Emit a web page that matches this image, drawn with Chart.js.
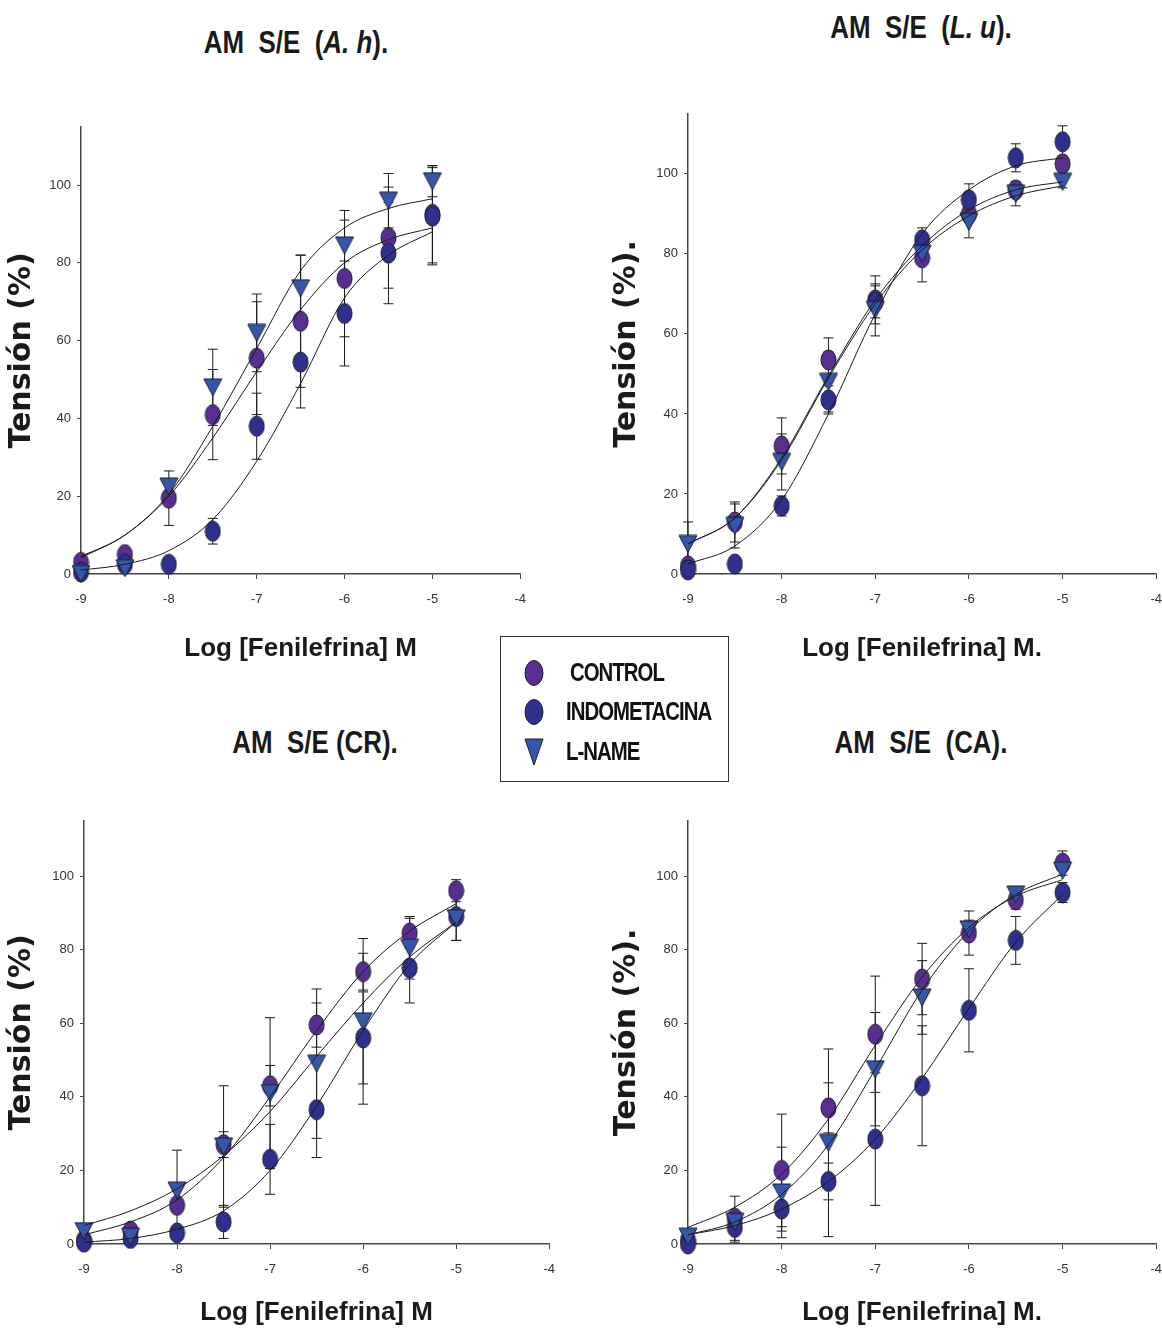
<!DOCTYPE html>
<html lang="es">
<head>
<meta charset="utf-8">
<title>AM S/E - Log [Fenilefrina]</title>
<script src="https://cdn.jsdelivr.net/npm/chart.js@4.4.1/dist/chart.umd.min.js"></script>
<style>
    html, body { margin: 0; padding: 0; background: #fff; overflow: hidden; }
    #page { position: relative; width: 1162px; height: 1331px; overflow: hidden; }
    canvas { position: absolute; }
    .panel-title {
        position: absolute;
        transform: translate(-50%, -50%) scaleX(0.81);
        font-family: "Liberation Sans", Arial, sans-serif;
        font-weight: bold;
        font-size: 32px;
        color: #1a1a1a;
        white-space: pre;
        line-height: 1;
    }
    #legend {
        position: absolute;
        left: 500px; top: 636px;
        width: 227px; height: 144px;
        border: 1.5px solid #333;
    }
    .legend-item { position: absolute; left: 0; width: 227px; height: 34px; }
    .legend-item svg { position: absolute; left: 20px; top: 3px; }
    .legend-item span {
        position: absolute; top: 3px;
        transform: scaleX(0.815);
        transform-origin: left center;
        font-family: "Liberation Sans", Arial, sans-serif;
        font-weight: bold; font-size: 25px; letter-spacing: -1.2px; color: #111;
        white-space: nowrap;
    }
</style>
</head>
<body>
<div id="page">
    <canvas id="chart-ah"></canvas>
    <canvas id="chart-lu"></canvas>
    <canvas id="chart-cr"></canvas>
    <canvas id="chart-ca"></canvas>

    <div class="panel-title" style="left:296px; top:42px;">AM  S/E  (<i>A. h</i>).</div>
    <div class="panel-title" style="left:921px; top:27px;">AM  S/E  (<i>L. u</i>).</div>
    <div class="panel-title" style="left:315px; top:742px;">AM  S/E (CR).</div>
    <div class="panel-title" style="left:921px; top:742px;">AM  S/E  (CA).</div>

    <div id="legend">
        <div class="legend-item" style="top:18px;">
            <svg width="26" height="30"><ellipse cx="13" cy="15" rx="9" ry="12.5" fill="#5a2e90" stroke="#1c1c2c" stroke-width="1"/></svg>
            <span style="left:69px;">CONTROL</span>
        </div>
        <div class="legend-item" style="top:57px;">
            <svg width="26" height="30"><ellipse cx="13" cy="15" rx="9" ry="12.5" fill="#2f2f8e" stroke="#1c1c2c" stroke-width="1"/></svg>
            <span style="left:65px;">INDOMETACINA</span>
        </div>
        <div class="legend-item" style="top:97px;">
            <svg width="26" height="30"><polygon points="4,2 22,2 13,28" fill="#3457ab" stroke="#1c1c2c" stroke-width="1"/></svg>
            <span style="left:65px;">L-NAME</span>
        </div>
    </div>
</div>

<script>
// log [fenilefrina] M
const doses = [-9, -8.5, -8, -7.5, -7, -6.5, -6, -5.5, -5];
const xTicks = [-9, -8, -7, -6, -5, -4];
const yTicks = [0, 20, 40, 60, 80, 100];

// AM S/E (A. h)
const ahControl    = [3, 5, 19.5, 41, 55.5, 65, 76, 86.5, 92.5];
const ahControlSem = [0, 0, 7, 11.6, 14.5, 17, 15, 13, 12.5];
const ahIndo       = [0.5, 2.5, 2.5, 11, 38, 54.5, 67, 82.5, 92];
const ahIndoSem    = [0, 0, 0, 3.3, 8.5, 11.8, 13.5, 13, 12.5];
const ahLname      = [0, 1.5, 22.5, 48, 62, 73.5, 84.5, 96, 101];
const ahLnameSem   = [0, 0, 2, 9.8, 10, 8.5, 9, 7, 4];
const ahControlFit = [4.2, 10, 20, 35, 52, 68, 80, 86, 89];
const ahIndoFit    = [1, 2.5, 6, 14, 29, 49, 71, 82, 88];
const ahLnameFit   = [4.5, 10, 20.5, 38, 58, 78, 89, 94, 96.5];

// AM S/E (L. u)
const luControl    = [2, 13, 32, 53.5, 68.5, 79, 90, 96, 102.5];
const luControlSem = [0, 5, 7, 5.5, 6, 6, 2, 1.5, 2];
const luIndo       = [1, 2.5, 17, 43.5, 68, 83.5, 93.5, 104, 108];
const luIndoSem    = [0, 0, 2.5, 3.5, 4, 3, 4, 3.5, 4];
const luLname      = [7.5, 12, 28, 48, 66, 80, 88, 95, 98];
const luLnameSem   = [5.5, 5.5, 7, 7.5, 6.5, 2, 4, 3, 1.5];
const luControlFit = [7.5, 14, 29, 49.5, 68.5, 82, 91, 96, 98];
const luIndoFit    = [2.5, 7, 18.5, 40, 65, 85, 96, 102, 104];
const luLnameFit   = [7.5, 14, 28.5, 49, 67.5, 81, 89.5, 94.5, 97];

// AM S/E (CR)
const crControl    = [1, 3.5, 10.5, 27, 43, 59.5, 74, 84.5, 96];
const crControlSem = [0, 0, 0, 3.5, 5.5, 6, 5, 4, 3];
const crIndo       = [0.5, 1.5, 3, 6, 23, 36.5, 56, 75, 89];
const crIndoSem    = [0, 0, 0, 4.5, 9.5, 13, 12.5, 9.5, 6.5];
const crLname      = [3.5, 2, 14.5, 26.5, 41, 49, 60.5, 80.5, 88.5];
const crLnameSem   = [1.5, 0, 11, 16.5, 20.5, 20.3, 22.5, 8.5, 6];
const crControlFit = [2.5, 6, 12, 23.5, 40, 58, 74, 85, 92.5];
const crIndoFit    = [0.5, 1.5, 4, 9, 20, 37.5, 58, 76, 87.5];
const crLnameFit   = [5, 9, 15, 24, 36, 51, 65.5, 78, 87.5];

// AM S/E (CA)
const caControl    = [1, 7, 20, 37, 57, 72, 84.5, 93.5, 103.5];
const caControlSem = [0, 6, 15.3, 6.8, 15.8, 9.7, 6, 2.5, 3.3];
const caIndo       = [0, 4.5, 9.5, 17, 28.5, 43, 63.5, 82.5, 95.5];
const caIndoSem    = [0, 4, 6, 5, 18, 16.3, 11.3, 6.5, 2.7];
const caLname      = [2, 6, 14, 27.5, 47.5, 67, 85.5, 95, 101.5];
const caLnameSem   = [0, 0, 12.3, 25.5, 15.4, 10, 2.5, 0, 0];
const caControlFit = [4.5, 10, 19, 34, 54, 72.5, 86, 94.5, 99];
const caIndoFit    = [2.5, 5, 9.5, 17, 28.5, 45, 64, 82, 95];
const caLnameFit   = [2.5, 6, 13.5, 27, 47.5, 69, 85, 95, 100.5];

const COLORS = { control: '#5a2e90', indo: '#2f2f8e', lname: '#3457ab' };
const SANS = '"Liberation Sans", Arial, sans-serif';

function ellipseMarker(fill, w, h) {
    const c = document.createElement('canvas');
    c.width = w + 2;
    c.height = h + 2;
    const g = c.getContext('2d');
    g.beginPath();
    g.ellipse(c.width / 2, c.height / 2, w / 2, h / 2, 0, 0, Math.PI * 2);
    g.fillStyle = fill;
    g.fill();
    g.lineWidth = 1;
    g.strokeStyle = '#1c1c2c';
    g.stroke();
    return c;
}

function triangleMarker(fill, w, h) {
    const c = document.createElement('canvas');
    c.width = w + 2;
    c.height = h + 2;
    const g = c.getContext('2d');
    g.beginPath();
    g.moveTo(1, 1);
    g.lineTo(w + 1, 1);
    g.lineTo(w / 2 + 1, h + 1);
    g.closePath();
    g.fillStyle = fill;
    g.fill();
    g.lineWidth = 1;
    g.strokeStyle = '#1c1c2c';
    g.stroke();
    return c;
}

const markers = {
    control: ellipseMarker(COLORS.control, 15, 20),
    indo: ellipseMarker(COLORS.indo, 15, 20),
    lname: triangleMarker(COLORS.lname, 18, 17)
};

// vertical SEM bars with caps, drawn under the symbols
const errorBars = {
    id: 'errorBars',
    beforeDatasetsDraw(chart) {
        const { ctx, scales: { x, y } } = chart;
        ctx.save();
        ctx.strokeStyle = '#1a1a1a';
        ctx.lineWidth = 1;
        chart.data.datasets.forEach(ds => {
            if (!ds.errors) return;
            ds.data.forEach((p, i) => {
                const e = ds.errors[i];
                if (!e) return;
                const px = x.getPixelForValue(p.x);
                const top = y.getPixelForValue(p.y + e);
                const bot = y.getPixelForValue(p.y - e);
                ctx.beginPath();
                ctx.moveTo(px, top); ctx.lineTo(px, bot);
                ctx.moveTo(px - 5, top); ctx.lineTo(px + 5, top);
                ctx.moveTo(px - 5, bot); ctx.lineTo(px + 5, bot);
                ctx.stroke();
            });
        });
        ctx.restore();
    }
};

const toPoints = values => doses.map((d, i) => ({ x: d, y: values[i] }));

function fitDataset(values) {
    return {
        data: toPoints(values),
        showLine: true,
        pointRadius: 0,
        borderColor: '#1a1a1a',
        borderWidth: 1,
        cubicInterpolationMode: 'monotone',
        fill: false,
        clip: false,
        order: 0
    };
}

function symbolDataset(label, values, sem, marker, order) {
    return {
        label: label,
        data: toPoints(values),
        errors: sem,
        showLine: false,
        pointStyle: marker,
        pointRadius: 9,
        clip: false,
        order: order
    };
}

function makePanel(id, box, series, xTitle, yTitle) {
    const canvas = document.getElementById(id);
    canvas.width = box.w;
    canvas.height = box.h;
    canvas.style.left = box.left + 'px';
    canvas.style.top = box.top + 'px';

    const axisColor = '#444';
    return new Chart(canvas.getContext('2d'), {
        type: 'scatter',
        data: {
            datasets: [
                fitDataset(series.controlFit),
                fitDataset(series.indoFit),
                fitDataset(series.lnameFit),
                symbolDataset('CONTROL', series.control, series.controlSem, markers.control, 3),
                symbolDataset('INDOMETACINA', series.indo, series.indoSem, markers.indo, 2),
                symbolDataset('L-NAME', series.lname, series.lnameSem, markers.lname, 1)
            ]
        },
        options: {
            responsive: false,
            animation: false,
            events: [],
            layout: { padding: { top: 12, right: 10, left: 0, bottom: 0 } },
            scales: {
                x: {
                    type: 'linear',
                    min: -9,
                    max: -4,
                    afterBuildTicks: s => { s.ticks = xTicks.map(v => ({ value: v })); },
                    afterFit: s => { s.height = box.xh; },
                    grid: { display: true, drawOnChartArea: false, drawTicks: true, tickLength: 5, color: axisColor },
                    border: { display: true, color: axisColor, width: 1.5 },
                    ticks: { color: '#333', font: { family: SANS, size: 13 }, padding: 13, maxRotation: 0 },
                    title: {
                        display: true,
                        text: xTitle,
                        color: '#1a1a1a',
                        font: { family: SANS, size: 26, weight: 'bold' },
                        padding: { top: 0, bottom: box.xPad }
                    }
                },
                y: {
                    type: 'linear',
                    min: 0,
                    max: 115,
                    afterBuildTicks: s => { s.ticks = yTicks.map(v => ({ value: v })); },
                    afterFit: s => { s.width = box.yw; },
                    grid: { display: true, drawOnChartArea: false, drawTicks: true, tickLength: 4, color: axisColor },
                    border: { display: true, color: axisColor, width: 1.5 },
                    ticks: { color: '#333', font: { family: SANS, size: 13 }, padding: 6 },
                    title: {
                        display: true,
                        text: yTitle,
                        color: '#1a1a1a',
                        font: { family: '"DejaVu Sans", sans-serif', size: 30, weight: 'bold' },
                        padding: { top: box.yPad, bottom: 0 }
                    }
                }
            },
            plugins: {
                legend: { display: false },
                tooltip: { enabled: false }
            }
        },
        plugins: [errorBars]
    });
}

makePanel('chart-ah', { left: 0, top: 113, w: 539, h: 555, yw: 81, xh: 94, xPad: 4, yPad: 4 }, {
    control: ahControl, controlSem: ahControlSem, indo: ahIndo, indoSem: ahIndoSem,
    lname: ahLname, lnameSem: ahLnameSem,
    controlFit: ahControlFit, indoFit: ahIndoFit, lnameFit: ahLnameFit
}, 'Log [Fenilefrina] M', 'Tensión (%)');

makePanel('chart-lu', { left: 600, top: 100, w: 575, h: 568, yw: 88, xh: 94, xPad: 4, yPad: 9 }, {
    control: luControl, controlSem: luControlSem, indo: luIndo, indoSem: luIndoSem,
    lname: luLname, lnameSem: luLnameSem,
    controlFit: luControlFit, indoFit: luIndoFit, lnameFit: luLnameFit
}, 'Log [Fenilefrina] M.', 'Tensión (%).');

makePanel('chart-cr', { left: 0, top: 807, w: 568, h: 525, yw: 84, xh: 88, xPad: 4, yPad: 4 }, {
    control: crControl, controlSem: crControlSem, indo: crIndo, indoSem: crIndoSem,
    lname: crLname, lnameSem: crLnameSem,
    controlFit: crControlFit, indoFit: crIndoFit, lnameFit: crLnameFit
}, 'Log [Fenilefrina] M', 'Tensión (%)');

makePanel('chart-ca', { left: 600, top: 807, w: 575, h: 525, yw: 88, xh: 88, xPad: 4, yPad: 9 }, {
    control: caControl, controlSem: caControlSem, indo: caIndo, indoSem: caIndoSem,
    lname: caLname, lnameSem: caLnameSem,
    controlFit: caControlFit, indoFit: caIndoFit, lnameFit: caLnameFit
}, 'Log [Fenilefrina] M.', 'Tensión (%).');
</script>
</body>
</html>
